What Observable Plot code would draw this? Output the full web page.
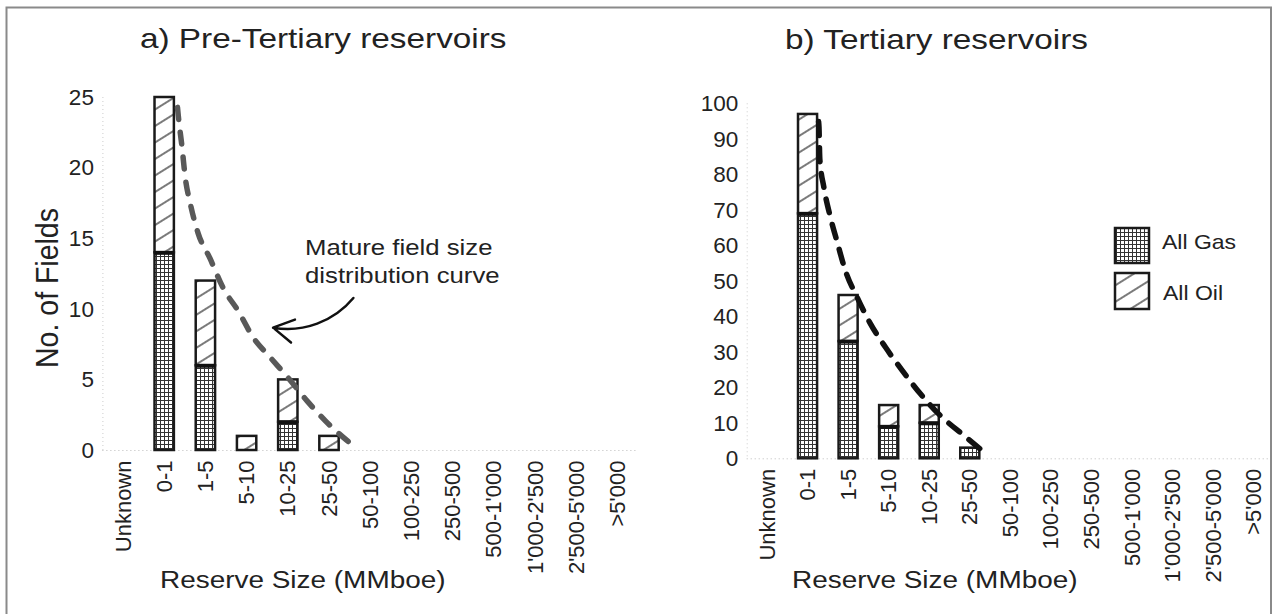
<!DOCTYPE html>
<html><head><meta charset="utf-8">
<script src="https://cdn.jsdelivr.net/npm/d3@7"></script>
<script src="https://cdn.jsdelivr.net/npm/@observablehq/plot@0.6"></script>
<style>
html,body{margin:0;padding:0;background:#fff;}
#root{position:relative;width:1274px;height:614px;overflow:hidden;font-family:"Liberation Sans",Arial,sans-serif;color:#222;background:#fff;}
#root > svg{position:absolute;top:0;}
</style></head><body><div id="root"></div>
<script>
// ---- data ----
const categories = ["Unknown","0-1","1-5","5-10","10-25","25-50","50-100","100-250","250-500","500-1'000","1'000-2'500","2'500-5'000",">5'000"];
const gasA = [0,14,6,0,2,0,0,0,0,0,0,0,0];
const oilA = [0,11,6,1,3,1,0,0,0,0,0,0,0];
const gasB = [0,69,33,9,10,3,0,0,0,0,0,0,0];
const oilB = [0,28,13,6,5,0,0,0,0,0,0,0,0];
const ticksA = [0,5,10,15,20,25];
const ticksB = [0,10,20,30,40,50,60,70,80,90,100];
// fitted curve (x in category-index units, y in fields)
const curveAx = [1.31,1.33,1.42,1.50,1.62,1.81,2.10,2.42,2.78,3.15,3.56,3.98,4.46,4.90,5.55];
const curveAy = [24.3,23.7,21.5,19.3,17.5,15.4,13.6,11.5,9.9,8.0,6.6,5.2,3.5,2.1,0.4];
const curveBx = [1.26,1.27,1.29,1.39,1.55,1.72,1.92,2.21,2.54,2.91,3.32,3.77,4.26,4.84,5.41];
const curveBy = [95,93.4,84.5,76.5,68.1,61.0,53.0,45.5,38.0,31.4,24.9,18.3,12.2,6.6,1.2];
// annotation arrow (data units of panel a)
const arrowA = [{x1:5.58, y1:10.8, x2:3.63, y2:8.7}];

const root = document.getElementById("root");
const font = '"Liberation Sans", Arial, sans-serif';
const hw = 0.235;

function panel(o){
  const rows = categories.map((c,i)=>({i, gas:o.gas[i], oil:o.oil[i]}));
  const curve = o.cx.map((x,k)=>({x, y:o.cy[k]}));
  const svg = Plot.plot({
    width:o.width, height:614,
    marginLeft:o.marginLeft, marginRight:o.marginRight, marginTop:o.marginTop, marginBottom:614-o.yZero,
    x:{type:"linear", domain:[-0.5,12.5]},
    y:{domain:[0,o.yMax]},
    style:{fontFamily:font, color:"#222", background:"transparent", overflow:"visible"},
    marks:[
      Plot.ruleY([0], {stroke:"#bbb", strokeDasharray:"1,3"}),
      Plot.ruleX([-0.5], {stroke:"#ccc", strokeDasharray:"1,3"}),
      Plot.rect(rows.filter(d=>d.gas>0), {x1:d=>d.i-hw, x2:d=>d.i+hw, y1:0, y2:"gas", fill:"url(#gasPat)", stroke:"#1a1a1a", strokeWidth:2.5}),
      Plot.rect(rows.filter(d=>d.oil>0), {x1:d=>d.i-hw, x2:d=>d.i+hw, y1:"gas", y2:d=>d.gas+d.oil, fill:"url(#oilPat)", stroke:"#1a1a1a", strokeWidth:2.5}),
      Plot.ruleY(rows.filter(d=>d.gas>0&&d.oil>0), {y:"gas", x1:d=>d.i-hw, x2:d=>d.i+hw, stroke:"#111", strokeWidth:4}),
      Plot.line(curve, {x:"x", y:"y", curve:"monotone-x", stroke:o.curveColor, strokeWidth:5.5, strokeDasharray:o.dash}),
      ...(o.extra||[]),
      Plot.axisY(o.ticks, {tickSize:0, tickPadding:9, fontSize:22.5, label:null}),
      Plot.axisX(d3.range(categories.length), {tickFormat:i=>categories[i], tickRotate:-90, tickSize:0, tickPadding:10, fontSize:22, label:null})
    ]
  });
  svg.style.left = o.left+"px";
  root.appendChild(svg);
}

panel({gas:gasA, oil:oilA, cx:curveAx, cy:curveAy, ticks:ticksA, yMax:25,
  left:0, width:660, marginLeft:102.4, marginRight:22, marginTop:97, yZero:450,
  curveColor:"#595959", dash:"12,13",
  extra:[Plot.arrow(arrowA, {x1:"x1", y1:"y1", x2:"x2", y2:"y2", bend:30, stroke:"#111", strokeWidth:2.5, headLength:14})]});
panel({gas:gasB, oil:oilB, cx:curveBx, cy:curveBy, ticks:ticksB, yMax:100,
  left:660, width:614, marginLeft:86.7, marginRight:0, marginTop:103.3, yZero:458.3,
  curveColor:"#111", dash:"14,12"});

// ---- overlay: titles, labels, legend, frame ----
const ns = "http://www.w3.org/2000/svg";
const ov = document.createElementNS(ns, "svg");
ov.setAttribute("width", 1274); ov.setAttribute("height", 614);
ov.style.left = "0px"; ov.style.pointerEvents = "none";
ov.setAttribute("font-family", font);
ov.innerHTML = `
<defs>
  <pattern id="gasPat" patternUnits="userSpaceOnUse" width="4" height="4">
    <rect width="4" height="4" fill="#fff"/>
    <path d="M0 0.5H4M0.5 0V4" stroke="#333" stroke-width="1"/>
  </pattern>
  <pattern id="oilPat" patternUnits="userSpaceOnUse" width="14" height="14" patternTransform="rotate(-32)">
    <rect width="14" height="14" fill="#fff"/>
    <line x1="0" y1="7" x2="14" y2="7" stroke="#333" stroke-width="1.3"/>
  </pattern>
</defs>
<rect x="6.5" y="7.5" width="1264.5" height="640" fill="none" stroke="#8a8a8a" stroke-width="2"/>
<g fill="#222">
  <text transform="translate(140,48) scale(1.19,1)" font-size="28">a) Pre-Tertiary reservoirs</text>
  <text transform="translate(785,49) scale(1.19,1)" font-size="28">b) Tertiary reservoirs</text>
  <text transform="translate(58,288) scale(1.12,1) rotate(-90)" text-anchor="middle" font-size="28.5">No. of Fields</text>
  <text transform="translate(160,588) scale(1.14,1)" font-size="24.5">Reserve Size (MMboe)</text>
  <text transform="translate(792,588) scale(1.14,1)" font-size="24.5">Reserve Size (MMboe)</text>
  <text transform="translate(305,255) scale(1.12,1)" font-size="23">Mature field size</text>
  <text transform="translate(305,283) scale(1.12,1)" font-size="23">distribution curve</text>
  <rect x="1115" y="228" width="34" height="35" fill="url(#gasPat)" stroke="#1a1a1a" stroke-width="2.5"/>
  <rect x="1115" y="273" width="34" height="36" fill="url(#oilPat)" stroke="#1a1a1a" stroke-width="2.5"/>
  <text transform="translate(1162,249) scale(1.15,1)" font-size="20">All Gas</text>
  <text transform="translate(1163,300) scale(1.15,1)" font-size="20">All Oil</text>
</g>`;
root.appendChild(ov);
</script></body></html>
